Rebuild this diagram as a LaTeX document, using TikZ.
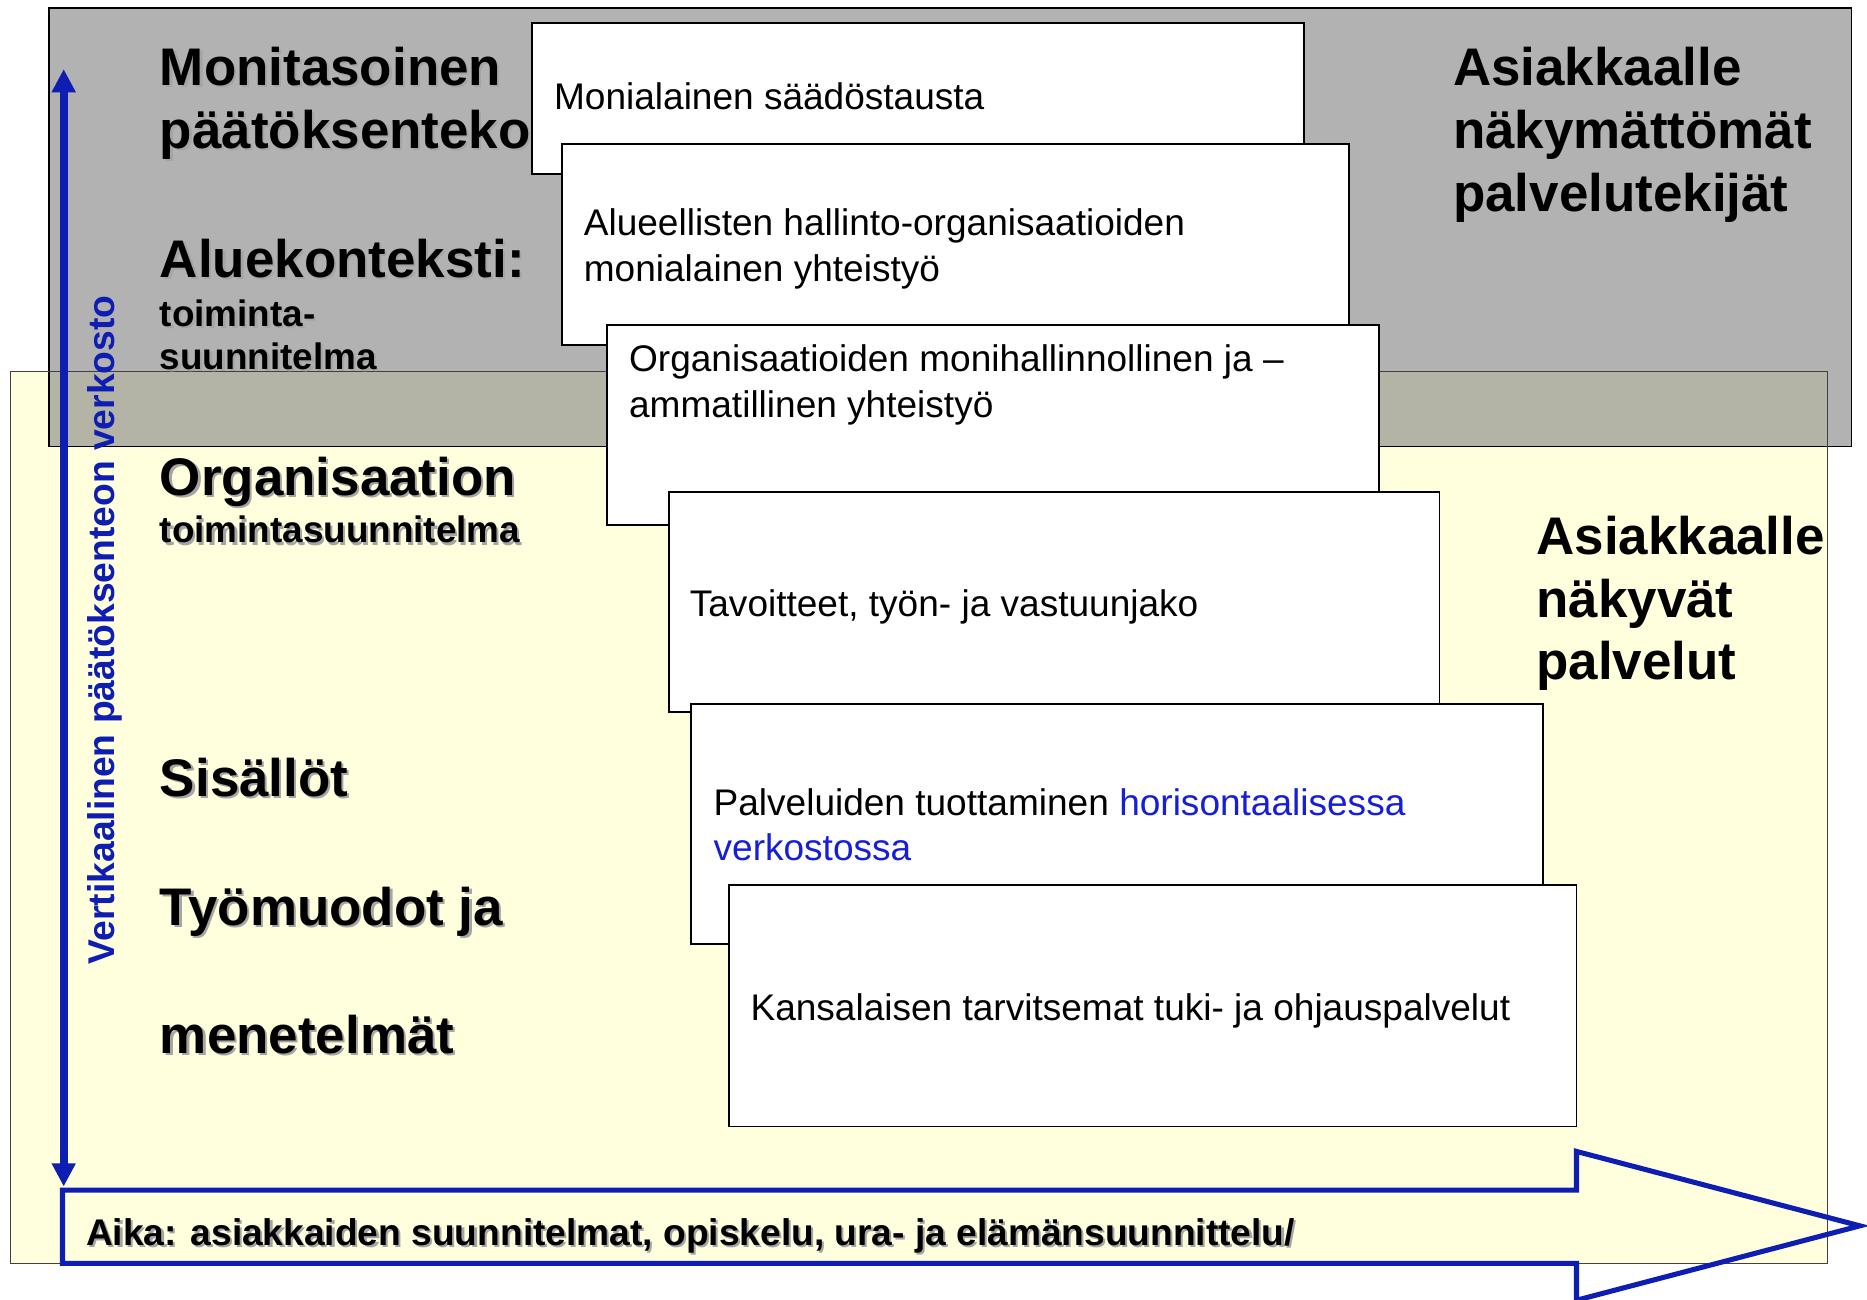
\documentclass[tikz,border=0pt]{standalone}
\usepackage{fontspec}
\setmainfont{Liberation Sans}
\usetikzlibrary{arrows.meta}

\definecolor{panelgray}{RGB}{178,178,178}
\definecolor{paneyellow}{RGB}{255,255,221}
\definecolor{overlapgray}{RGB}{179,179,166}
\definecolor{axisblue}{RGB}{14,30,178}
\definecolor{netblue}{RGB}{22,30,214}
\definecolor{shadowgray}{RGB}{165,165,165}

\newcommand\hdfont{\fontsize{25.3}{30}\selectfont\bfseries}
\newcommand\sbfont{\fontsize{17.6}{21}\selectfont\bfseries}
\newcommand\akfont{\fontsize{17.75}{21}\selectfont\bfseries}
\newcommand\bxfont{\fontsize{17.7}{21}\selectfont}
\newcommand\vtfont{\fontsize{17.8}{21}\selectfont\bfseries}
\newcommand\shtxt[1]{\leavevmode\rlap{\kern1pt\raisebox{-1pt}{\color{shadowgray}#1}}#1}

\tikzset{
  panel/.style={draw=black, line width=0.3mm},
  card/.style={draw=black, fill=white, line width=0.3mm},
  hdlbl/.style={anchor=base west, inner sep=0pt, font=\hdfont},
  sblbl/.style={anchor=base west, inner sep=0pt, font=\sbfont},
  bxlbl/.style={anchor=base west, inner sep=0pt, font=\bxfont},
}

\begin{document}
\begin{tikzpicture}[x=0.2mm,y=-0.2mm]
	\useasboundingbox (0,0) rectangle (1568,1091);
	
	\fill[panelgray] (41,7) rectangle (1555,375);
	\fill[paneyellow] (9,312) rectangle (1535,1061);
	\fill[overlapgray] (41,312) rectangle (1535,375);
	\draw[panel] (41,7) rectangle (1555,375);
	\draw[line width=0.25mm, draw=black!75] (9,312) rectangle (1535,1061);
	
	\foreach \xa/\ya/\xb/\yb in {447/19/1095/146, 472/121/1133/290, 510/273/1158/441, 562/413/1209/598, 580/591/1296/793, 612/743/1324/946}
	\draw[card] (\xa,\ya) rectangle (\xb,\yb);
	
	\node[bxlbl] (t1) at (465,92) {Monialainen säädöstausta};
	\node[bxlbl] (t2a) at (490,198) {Alueellisten hallinto-organisaatioiden};
	\node[bxlbl] (t2b) at (490,236) {monialainen yhteistyö};
	\node[bxlbl] (t3a) at (528,312) {Organisaatioiden monihallinnollinen ja –};
	\node[bxlbl] (t3b) at (528,351) {ammatillinen yhteistyö};
	\node[bxlbl] (t4) at (579,518) {Tavoitteet, työn- ja vastuunjako};
	\node[bxlbl] (t5a) at (599,685) {Palveluiden tuottaminen \textcolor{netblue}{horisontaalisessa}};
	\node[bxlbl] (t5b) at (599,723) {\textcolor{netblue}{verkostossa}};
	\node[bxlbl] (t6) at (630,857) {Kansalaisen tarvitsemat tuki- ja ohjauspalvelut};
	
	\node[hdlbl] (l1a) at (134,72) {\shtxt{Monitasoinen}};
	\node[hdlbl] (l1b) at (134,125) {\shtxt{päätöksenteko}};
	\node[hdlbl] (l2) at (134,233) {\shtxt{Aluekonteksti:}};
	\node[sblbl] (l2a) at (134,274) {\shtxt{toiminta-}};
	\node[sblbl] (l2b) at (134,310) {\shtxt{suunnitelma}};
	\node[hdlbl] (l3) at (134,416) {\shtxt{Organisaation}};
	\node[sblbl] (l3a) at (134,456) {\shtxt{toimintasuunnitelma}};
	\node[hdlbl] (l4) at (134,669) {\shtxt{Sisällöt}};
	\node[hdlbl] (l5a) at (134,777) {\shtxt{Työmuodot ja}};
	\node[hdlbl] (l5b) at (134,885) {\shtxt{menetelmät}};
	
	\node[hdlbl] (r1a) at (1220,72) {Asiakkaalle};
	\node[hdlbl] (r1b) at (1220,125) {näkymättömät};
	\node[hdlbl] (r1c) at (1220,178) {palvelutekijät};
	\node[hdlbl] (r2a) at (1290,466) {Asiakkaalle};
	\node[hdlbl] (r2b) at (1290,519) {näkyvät};
	\node[hdlbl] (r2c) at (1290,571) {palvelut};
	
	\coordinate (vtop) at (53.5,58);
	\coordinate (vbot) at (53.5,996.5);
	\draw[axisblue, line width=1.3mm, >={Triangle[length=3.9mm,width=3.8mm]}, <->] (vbot) -- (vtop);
	\node[rotate=90, anchor=base west, inner sep=0pt, font=\vtfont, text=axisblue] (vlabel) at (96,810) {Vertikaalinen päätöksenteon verkosto};
	
	\coordinate (tip) at (1562,1029.5);
	\draw[axisblue, line width=0.85mm, line join=miter] (52.5,999.5) -- (1324,999.5) -- (1324,967) -- (tip) -- (1324,1092) -- (1324,1061) -- (52.5,1061) -- cycle;
	\node[anchor=base west, inner sep=0pt, font=\akfont] (aika) at (72,1046) {\shtxt{Aika: asiakkaiden suunnitelmat, opiskelu, ura- ja elämänsuunnittelu/}};
\end{tikzpicture}
\end{document}
